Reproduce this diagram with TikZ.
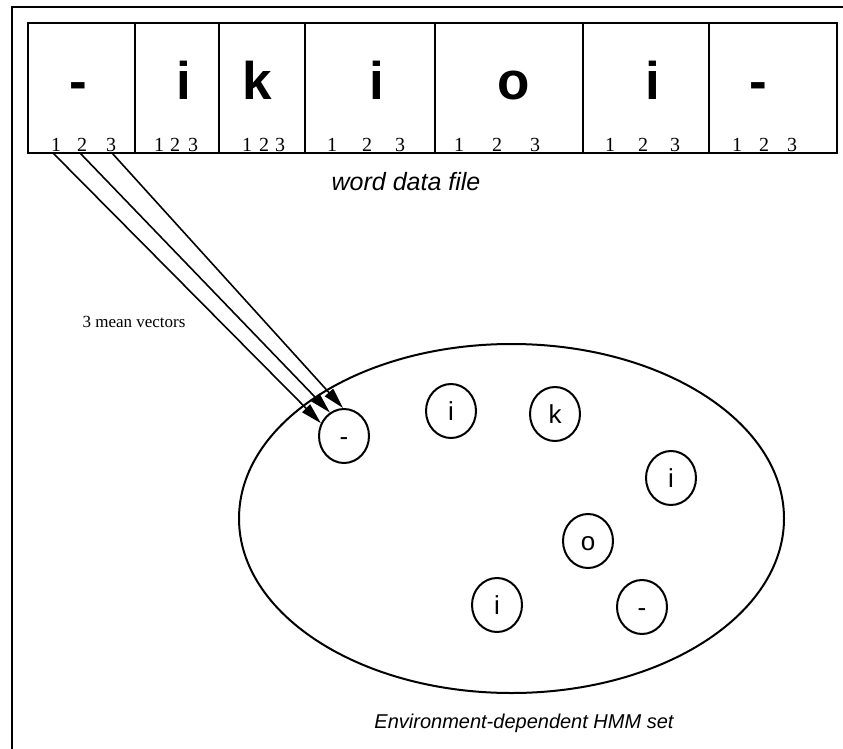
\documentclass[tikz,border=0pt]{standalone}
\usepackage{fontspec}
\setmainfont{Liberation Serif}
\newfontfamily\helv{Liberation Sans}
\usetikzlibrary{arrows.meta,shapes.geometric}

\begin{document}
\begin{tikzpicture}[x=1pt,y=-1pt,
  cell/.style={draw,line width=2pt,rectangle,inner sep=0pt,minimum height=130pt},
  bigletter/.style={anchor=base,inner sep=0pt,font=\helv\bfseries\fontsize{53}{53}\selectfont},
  idx/.style={anchor=base,inner sep=0pt,font=\fontsize{20}{20}\selectfont},
  model/.style={draw,ellipse,line width=2pt,minimum width=50pt,minimum height=54pt,
    inner sep=0pt,text height=19pt,text depth=0pt,font=\helv\fontsize{26}{26}\selectfont},
  vec/.style={line width=1.6pt,-{Triangle[length=21pt,width=11pt]}},
  caption/.style={anchor=base,inner sep=0pt,font=\helv\itshape}
]
\useasboundingbox (0,0) rectangle (843,749);

% outer frame (top and left edges)
\coordinate (fr) at (843,7);
\coordinate (ftl) at (12,7);
\coordinate (fbl) at (12,749);
\draw[line width=1.8pt] (fr) -- (ftl) -- (fbl);

% word data file: one cell per phone
\node[cell,minimum width=107pt] (c1) at (81.5,88) {};
\node[cell,minimum width=84pt]  (c2) at (177,88) {};
\node[cell,minimum width=86pt]  (c3) at (262,88) {};
\node[cell,minimum width=130pt] (c4) at (370,88) {};
\node[cell,minimum width=148pt] (c5) at (509,88) {};
\node[cell,minimum width=126pt] (c6) at (646,88) {};
\node[cell,minimum width=128pt] (c7) at (773,88) {};

\node[bigletter] (p1) at (78,100) {-};
\node[bigletter] (p2) at (184,100) {i};
\node[bigletter] (p3) at (257,100) {k};
\node[bigletter] (p4) at (377,100) {i};
\node[bigletter] (p5) at (514,100) {o};
\node[bigletter] (p6) at (653,100) {i};
\node[bigletter] (p7) at (758,100) {-};

% state indices
\node[idx] (d11) at (56,151) {1};
\node[idx] (d12) at (82,151) {2};
\node[idx] (d13) at (111,151) {3};
\node[idx] (d21) at (159,151) {1};
\node[idx] (d22) at (175,151) {2};
\node[idx] (d23) at (193,151) {3};
\node[idx] (d31) at (247,151) {1};
\node[idx] (d32) at (264,151) {2};
\node[idx] (d33) at (280,151) {3};
\node[idx] (d41) at (332,151) {1};
\node[idx] (d42) at (367,151) {2};
\node[idx] (d43) at (400,151) {3};
\node[idx] (d51) at (459,151) {1};
\node[idx] (d52) at (497,151) {2};
\node[idx] (d53) at (535,151) {3};
\node[idx] (d61) at (610,151) {1};
\node[idx] (d62) at (643,151) {2};
\node[idx] (d63) at (675,151) {3};
\node[idx] (d71) at (737,151) {1};
\node[idx] (d72) at (764,151) {2};
\node[idx] (d73) at (792,151) {3};

\node[caption,font=\helv\itshape\fontsize{25}{25}\selectfont] (wdf) at (406,190) {word data file};

% HMM set
\node[draw,ellipse,line width=2pt,minimum width=545pt,minimum height=349pt,inner sep=0pt]
  (set) at (511.5,518.5) {};

\node[model] (m1) at (344,436) {-};
\node[model] (m2) at (451,411) {i};
\node[model] (m3) at (555,414) {k};
\node[model] (m4) at (671,478) {i};
\node[model] (m5) at (588,541) {o};
\node[model] (m6) at (497,605) {i};
\node[model] (m7) at (642,607) {-};

\node[caption,font=\helv\itshape\fontsize{20}{20}\selectfont] (hmm) at (524,728)
  {Environment-dependent HMM set};

% mean vectors of the first phone
\coordinate (s1) at (53,153);
\coordinate (s2) at (80,153);
\coordinate (s3) at (112,153);
\draw[vec] (s1) -- (m1.151);
\draw[vec] (s2) -- (m1.121);
\draw[vec] (s3) -- (m1.92);

\node[anchor=base,inner sep=0pt,font=\fontsize{17}{17}\selectfont] (mv) at (134,327) {3 mean vectors};
\end{tikzpicture}
\end{document}
